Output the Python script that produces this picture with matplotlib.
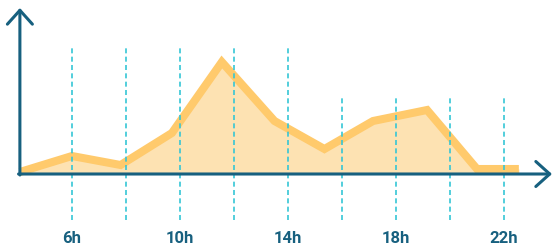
import numpy as np
import matplotlib
matplotlib.use('Agg')
import matplotlib.pyplot as plt

# data
hours = [4.07, 6.0, 7.8, 9.7, 11.55, 13.5, 15.35, 17.15, 19.15, 21.0, 22.55]
values = [2, 18, 9, 41, 112, 53, 25, 53, 64, 5, 5]

grid_hours = [6, 8, 10, 12, 14, 16, 18, 20, 22]
grid_tops = [126, 126, 126, 126, 126, 79, 79, 79, 79]

tick_hours = [6, 10, 14, 18, 22]
tick_labels = ['6h', '10h', '14h', '18h', '22h']

axis_col = '#17607f'
grid_col = '#35c6d6'
line_col = '#ffca6c'
fill_col = '#fde2b2'

fig = plt.figure(figsize=(5.54, 2.45), dpi=100)
ax = fig.add_axes([0, 0, 1, 1])
ax.set_xlim(6 - 72 / 27, 6 + 482 / 27)
ax.set_ylim(-71, 174)
ax.axis('off')

x0 = hours[0]
# area + thick line
ax.fill_between(hours, values, 0, color=fill_col, lw=0, zorder=1)
ax.plot(hours, values, color=line_col, lw=5.8, solid_joinstyle='miter',
        solid_capstyle='butt', zorder=2)

# dashed guides
ax.vlines(grid_hours, -46, grid_tops, colors=grid_col, lw=1.2,
          linestyles=(0, (3, 2)), zorder=3)

# axes with open arrow heads
arr = dict(arrowstyle='->,head_length=0.5,head_width=0.45', color=axis_col,
           lw=2.2, shrinkA=0, shrinkB=0, mutation_scale=20)
ax.annotate('', xy=(x0, 166), xytext=(x0, -1), arrowprops=arr, zorder=4)
ax.annotate('', xy=(6 + 480 / 27, 0), xytext=(x0 - 0.05, 0), arrowprops=arr, zorder=4)

for h, lab in zip(tick_hours, tick_labels):
    ax.text(h, -64, lab, ha='center', va='center', fontsize=12,
            fontweight='bold', family='Roboto', color=axis_col)

fig.savefig('out.png', dpi=100)
